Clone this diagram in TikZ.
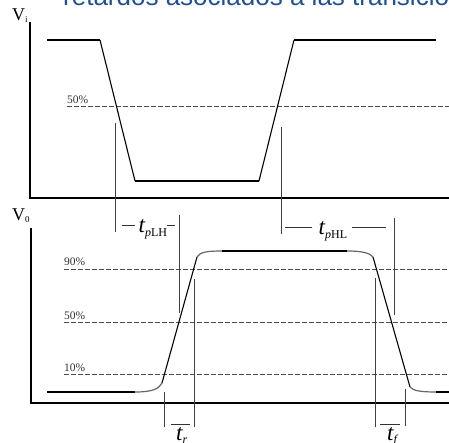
\documentclass[tikz,border=0pt]{standalone}
\usepackage{fontspec}
\setmainfont{Liberation Serif}
\newfontfamily\titlefont{Liberation Sans}
\definecolor{titleblue}{RGB}{30,80,150}
\newcommand\mytlabel[1]{{\fontsize{23}{23}\selectfont\itshape t}\raisebox{-3.5pt}{\fontsize{12}{12}\selectfont #1}}
\begin{document}
\begin{tikzpicture}[x=1pt,y=-1pt,
  thickwave/.style={line width=2.4pt, black},
  slope/.style={line width=1.1pt, black},
  knee/.style={line width=1.2pt, black!60},
  axisin/.style={line width=1.8pt, black},
  axisout/.style={line width=1.2pt, black},
  marker/.style={line width=0.9pt, black!75},
  level/.style={line width=0.9pt, black!70, dash pattern=on 4.5pt off 2.5pt},
  pct/.style={font=\fontsize{11.5}{11.5}\selectfont, text=black!80, inner sep=0pt, anchor=base west},
  lab/.style={inner sep=0pt, anchor=base west},
  bar/.style={line width=0.9pt, black!80}]
\useasboundingbox (0,0) rectangle (449,443);
% title
\node[lab, text=titleblue, font=\titlefont\fontsize{26}{26}\selectfont] (title) at (63,5.5) {retardos asociados a las transicio};
% ---------- input ----------
\coordinate (ia0) at (30,22); \coordinate (ia1) at (30,198); \coordinate (ia2) at (449,198);
\draw[axisin] (ia0) -- (ia1) -- (ia2);
\node[lab] (vi) at (12,21) {{\fontsize{18}{18}\selectfont V}\raisebox{-2pt}{\fontsize{9}{9}\selectfont i}};
\coordinate (ih1) at (67,106); \coordinate (ih2) at (449,106);
\draw[level] (ih1) -- (ih2);
\node[pct] (p50i) at (67,104) {50\%};
\coordinate (i1) at (47,40); \coordinate (i2) at (100,40); \coordinate (i3) at (135,181);
\coordinate (i4) at (259,181); \coordinate (i5) at (294,40); \coordinate (i6) at (436,40);
\draw[thickwave] (i1) -- (i2);
\draw[slope] (i2) -- (i3);
\draw[thickwave] (i3) -- (i4);
\draw[slope] (i4) -- (i5);
\draw[thickwave] (i5) -- (i6);
% ---------- output ----------
\coordinate (oa0) at (31,228); \coordinate (oa1) at (31,403); \coordinate (oa2) at (449,403);
\draw[axisout] (oa0) -- (oa1) -- (oa2);
\node[lab] (vo) at (12,221) {{\fontsize{18}{18}\selectfont V}\raisebox{-2pt}{\fontsize{9}{9}\selectfont 0}};
\coordinate (l90a) at (64,269); \coordinate (l90b) at (449,269);
\coordinate (l50a) at (64,322); \coordinate (l50b) at (449,322);
\coordinate (l10a) at (64,374); \coordinate (l10b) at (449,374);
\draw[level] (l90a) -- (l90b);
\draw[level] (l50a) -- (l50b);
\draw[level] (l10a) -- (l10b);
\node[pct] (p90) at (64,265.5) {90\%};
\node[pct] (p50o) at (64,319) {50\%};
\node[pct] (p10) at (64,371.5) {10\%};
\coordinate (o1) at (47,392); \coordinate (o2) at (135,392); \coordinate (o3) at (162,383);
\coordinate (o4) at (197,257); \coordinate (o5) at (222,251); \coordinate (o6) at (347,251);
\coordinate (o7) at (373,257); \coordinate (o8) at (410,387); \coordinate (o9) at (436,392);
\coordinate (o10) at (449,392);
\draw[thickwave] (o1) -- (o2);
\draw[knee] (o2) .. controls (152,392) and (159,389) .. (o3);
\draw[slope] (o3) -- (o4);
\draw[knee] (o4) .. controls (200,252) and (207,251) .. (o5);
\draw[thickwave] (o5) -- (o6);
\draw[knee] (o6) .. controls (362,251) and (370,253) .. (o7);
\draw[slope] (o7) -- (o8);
\draw[knee] (o8) .. controls (413,391) and (422,392) .. (o9);
\draw[thickwave] (o9) -- (o10);
% ---------- markers ----------
\coordinate (m1a) at (115,123); \coordinate (m1b) at (115,232);
\coordinate (m2a) at (281,127); \coordinate (m2b) at (281,234);
\coordinate (m3a) at (179,215); \coordinate (m3b) at (179,313);
\coordinate (m4a) at (394,218); \coordinate (m4b) at (394,315);
\coordinate (m5a) at (164,392); \coordinate (m5b) at (164,427);
\coordinate (m6a) at (194,279); \coordinate (m6b) at (194,427);
\coordinate (m7a) at (375,278); \coordinate (m7b) at (375,427);
\coordinate (m8a) at (405,389); \coordinate (m8b) at (405,426);
\foreach \a/\b in {m1a/m1b,m2a/m2b,m3a/m3b,m4a/m4b,m5a/m5b,m6a/m6b,m7a/m7b,m8a/m8b}
  \draw[marker] (\a) -- (\b);
% ---------- delay labels ----------
\coordinate (d1a) at (122,225); \coordinate (d1b) at (135,225);
\coordinate (d2a) at (167,225); \coordinate (d2b) at (175,225);
\coordinate (d3a) at (285,227); \coordinate (d3b) at (312,227);
\coordinate (d4a) at (352,227); \coordinate (d4b) at (386,227);
\draw[bar] (d1a) -- (d1b);
\draw[bar] (d2a) -- (d2b);
\draw[bar] (d3a) -- (d3b);
\draw[bar] (d4a) -- (d4b);
\node[lab] (tplh) at (138.5,233) {\mytlabel{\textit{p}LH}};
\node[lab] (tphl) at (318.5,235) {\mytlabel{\textit{p}HL}};
\coordinate (bra) at (171,424); \coordinate (brb) at (190,424);
\coordinate (bfa) at (380,424); \coordinate (bfb) at (400,424);
\draw[bar] (bra) -- (brb);
\draw[bar] (bfa) -- (bfb);
\node[lab] (tr) at (176,440) {\mytlabel{\textit{r}}};
\node[lab] (tf) at (387,440) {\mytlabel{\textit{f}}};
\end{tikzpicture}
\end{document}
